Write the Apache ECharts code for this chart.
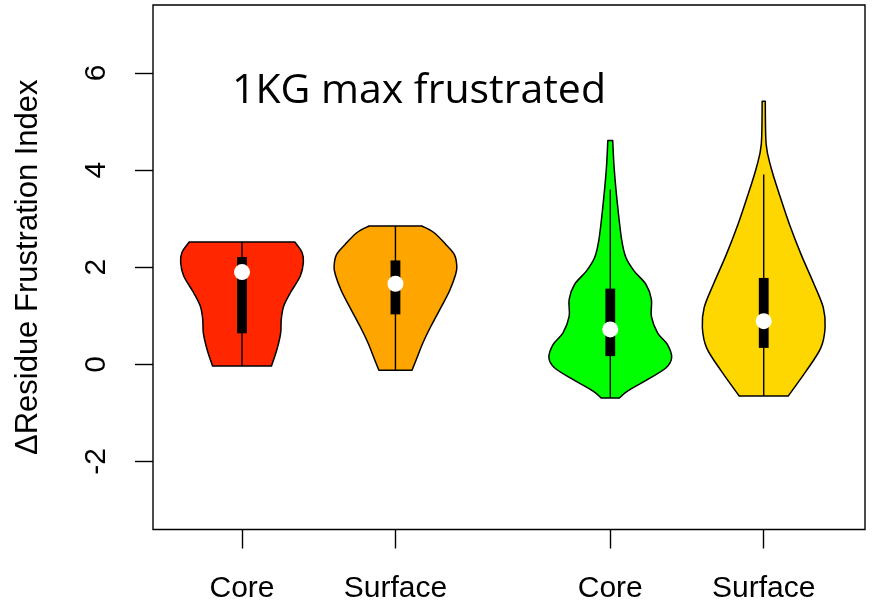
<!DOCTYPE html>
<html>
<head>
<meta charset="utf-8">
<script src="https://cdn.jsdelivr.net/npm/echarts@6/dist/echarts.min.js"></script>
<style>
  html, body { margin: 0; padding: 0; background: #fff; }
  #chart { width: 875px; height: 613px; }
</style>
</head>
<body>
<div id="chart"></div>
<script>
// Group labels along the x axis and their positions
const categories = ['Core', 'Surface', 'Core', 'Surface'];
const groupPositions = [1, 2, 3.4, 4.4];
const yTickValues = [-2, 0, 2, 4, 6];

// Kernel density outlines: levels (y) and relative half-widths (0..1)
const coreA_levels  = [2.52, 2.30, 2.10, 1.82, 1.48, 1.20, 0.93, 0.65, 0.31, -0.035];
const coreA_widths  = [0.86, 0.98, 1.00, 0.95, 0.79, 0.68, 0.64, 0.63, 0.57, 0.48];
const surfA_levels  = [2.85, 2.71, 2.47, 2.26, 2.02, 1.85, 1.51, 1.17, 0.79, 0.45, 0.10, -0.12];
const surfA_widths  = [0.43, 0.63, 0.82, 0.96, 1.00, 0.98, 0.88, 0.74, 0.58, 0.45, 0.34, 0.27];
const coreB_levels  = [4.61, 4.01, 3.26, 2.57, 2.20, 1.92, 1.65, 1.34, 0.99, 0.65, 0.41, 0.14, -0.07, -0.31, -0.55, -0.69];
const coreB_widths  = [0.04, 0.065, 0.12, 0.185, 0.255, 0.39, 0.58, 0.67, 0.67, 0.77, 0.93, 1.00, 0.91, 0.61, 0.28, 0.15];
const surfB_levels  = [5.42, 4.53, 4.05, 3.50, 2.88, 2.26, 1.65, 1.17, 0.76, 0.34, -0.14, -0.65];
const surfB_widths  = [0.025, 0.04, 0.12, 0.255, 0.42, 0.61, 0.82, 0.97, 1.00, 0.93, 0.69, 0.40];

// Box-plot summaries per group
const medians      = [1.90, 1.66, 0.72, 0.89];
const lowerQuart   = [0.64, 1.03, 0.17, 0.34];
const upperQuart   = [2.21, 2.14, 1.56, 1.78];
const whiskerLow   = [-0.035, -0.12, -0.69, -0.65];
const whiskerHigh  = [2.52, 2.85, 3.60, 3.91];

const levelSets = [coreA_levels, surfA_levels, coreB_levels, surfB_levels];
const widthSets = [coreA_widths, surfA_widths, coreB_widths, surfB_widths];
const fillColors = ['#FF2600', '#FFA500', '#00FF00', '#FFD700'];
const MAX_HALF = 0.4;      // half-width of the widest point, in x units
const BOX_HALF = 0.032;    // half-width of the quartile box, in x units

// Catmull-Rom curve through points, appended as cubic segments
function curveThrough(pts) {
  let d = '';
  const n = pts.length;
  for (let i = 0; i < n - 1; i++) {
    const p0 = pts[Math.max(i - 1, 0)];
    const p1 = pts[i];
    const p2 = pts[i + 1];
    const p3 = pts[Math.min(i + 2, n - 1)];
    const c1 = [p1[0] + (p2[0] - p0[0]) / 6, p1[1] + (p2[1] - p0[1]) / 6];
    const c2 = [p2[0] - (p3[0] - p1[0]) / 6, p2[1] - (p3[1] - p1[1]) / 6];
    d += ' C' + c1[0] + ' ' + c1[1] + ' ' + c2[0] + ' ' + c2[1] + ' ' + p2[0] + ' ' + p2[1];
  }
  return d;
}

function renderViolin(params, api) {
  const i = api.value(0);
  const xc = groupPositions[i];
  const levels = levelSets[i];
  const widths = widthSets[i];
  const left = levels.map((v, k) => api.coord([xc - widths[k] * MAX_HALF, v]));
  const right = levels.map((v, k) => api.coord([xc + widths[k] * MAX_HALF, v])).reverse();
  let d = 'M' + left[0][0] + ' ' + left[0][1] + curveThrough(left);
  d += ' L' + right[0][0] + ' ' + right[0][1] + curveThrough(right) + ' Z';

  const wTop = api.coord([xc, whiskerHigh[i]]);
  const wBot = api.coord([xc, whiskerLow[i]]);
  const bTL = api.coord([xc - BOX_HALF, upperQuart[i]]);
  const bBR = api.coord([xc + BOX_HALF, lowerQuart[i]]);
  const med = api.coord([xc, medians[i]]);

  return {
    type: 'group',
    children: [
      { type: 'path', shape: { pathData: d },
        style: { fill: fillColors[i], stroke: '#000', lineWidth: 1.5, lineJoin: 'round' } },
      { type: 'line', shape: { x1: wTop[0], y1: wTop[1], x2: wBot[0], y2: wBot[1] },
        style: { stroke: '#000', lineWidth: 1.4 } },
      { type: 'rect', shape: { x: bTL[0], y: bTL[1], width: bBR[0] - bTL[0], height: bBR[1] - bTL[1] },
        style: { fill: '#000' } },
      { type: 'circle', shape: { cx: med[0], cy: med[1], r: 8 },
        style: { fill: '#fff' } }
    ]
  };
}

const axisFont = "'Liberation Sans', Arial, sans-serif";
const chart = echarts.init(document.getElementById('chart'));
chart.setOption({
  animation: false,
  backgroundColor: '#fff',
  grid: { left: 153, top: 5, width: 712, height: 524.5, show: true,
          borderColor: '#000', borderWidth: 1.4, backgroundColor: 'transparent' },
  xAxis: {
    type: 'value', min: 0.42, max: 5.06,
    axisLine: { show: false, onZero: false },
    splitLine: { show: false },
    axisTick: { show: true, customValues: groupPositions, length: 19,
                lineStyle: { color: '#000', width: 1.4 } },
    axisLabel: {
      customValues: groupPositions, margin: 44,
      fontSize: 30, color: '#000', fontFamily: axisFont,
      formatter: (v) => {
        const k = groupPositions.findIndex(p => Math.abs(p - v) < 1e-6);
        return k >= 0 ? categories[k] : '';
      }
    }
  },
  yAxis: {
    type: 'value', min: -3.4, max: 7.4,
    axisLine: { show: false, onZero: false },
    splitLine: { show: false },
    axisTick: { show: true, customValues: yTickValues, length: 18,
                lineStyle: { color: '#000', width: 1.4 } },
    axisLabel: { customValues: yTickValues, rotate: 90, margin: 41,
                 fontSize: 30, color: '#000', fontFamily: axisFont },
    name: 'ΔResidue Frustration Index',
    nameLocation: 'middle', nameRotate: 90, nameGap: 109,
    nameTextStyle: { fontSize: 31, color: '#000', fontFamily: axisFont }
  },
  graphic: [{
    type: 'text', left: 232, top: 71,
    style: { text: '1KG max frustrated', fill: '#000', fontSize: 41,
             fontFamily: "'Open Sans', sans-serif" }
  }],
  series: [{
    type: 'custom',
    renderItem: renderViolin,
    clip: false,
    data: [[0], [1], [2], [3]],
    encode: { x: -1, y: -1 }
  }]
});
</script>
</body>
</html>
